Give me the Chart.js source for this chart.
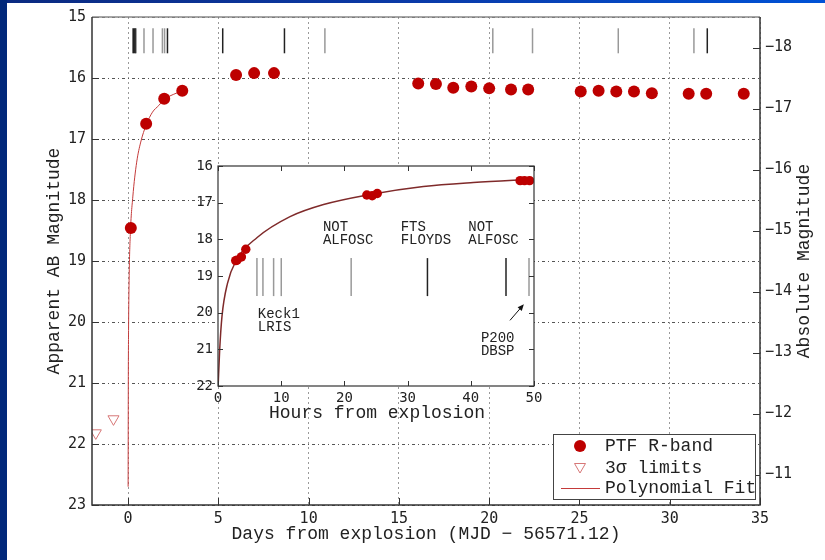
<!DOCTYPE html>
<html>
<head>
<meta charset="utf-8">
<script src="https://cdn.jsdelivr.net/npm/chart.js@4.4.1/dist/chart.umd.min.js"></script>
<style>
  html, body { margin: 0; padding: 0; background: #fff; }
  #page { position: relative; width: 825px; height: 560px; overflow: hidden; background: #fff; }
  #topbar { position: absolute; left: 0; top: 0; width: 825px; height: 3px;
            background: linear-gradient(90deg, #0b2a80 0%, #0a3aa8 50%, #0052d6 100%); z-index: 3; }
  #leftbar { position: absolute; left: 0; top: 0; width: 7px; height: 560px; background: #01287a; z-index: 3; }
  #main { position: absolute; left: 0; top: 0; }
  #inset { position: absolute; left: 160px; top: 150px; }
</style>
</head>
<body>
<div id="page">
  <canvas id="main" width="825" height="560"></canvas>
  <canvas id="inset" width="390" height="280"></canvas>
  <div id="topbar"></div>
  <div id="leftbar"></div>
</div>
<script>
// ---- Light curve, days since explosion (MJD - 56571.12) ----
const phaseDays = [0.15, 1.0, 2.0, 3.0, 5.98, 6.98, 8.08, 16.07, 17.05, 18.01, 19.01, 20.0,
                   21.21, 22.16, 25.07, 26.06, 27.04, 28.02, 29.01, 31.05, 32.02, 34.1];
const rMag      = [18.46, 16.75, 16.34, 16.21, 15.95, 15.92, 15.92, 16.09, 16.10, 16.16, 16.14, 16.17,
                   16.19, 16.19, 16.22, 16.21, 16.22, 16.22, 16.25, 16.26, 16.26, 16.26];

// Pre-explosion non-detections (3 sigma upper limits)
const limitDays = [-1.79, -0.81];
const limitMag  = [21.82, 21.59];

// Polynomial fit to the rise
const fitDays = [0.001, 0.011, 0.026, 0.062, 0.12, 0.26, 0.475, 0.70, 1.0, 1.35, 1.7, 2.0, 2.5, 3.0];
const fitMag  = [22.7, 21.0, 20.1, 19.2, 18.57, 17.95, 17.38, 17.05, 16.77, 16.56, 16.45, 16.35, 16.27, 16.21];

// Spectroscopic epochs (days)
const spectraDays   = [0.26, 0.30, 0.37, 0.42, 0.88, 1.38, 1.90, 2.02, 2.18, 5.24, 8.66, 10.9,
                       20.2, 22.4, 27.15, 31.34, 32.08];
const spectraShades = ['#888', '#222', '#222', '#333', '#999', '#999', '#999', '#999', '#222', '#222', '#222', '#999',
                       '#999', '#999', '#999', '#999', '#222'];

// ---- First two days, hours since explosion ----
const earlyHours = [2.8, 3.0, 3.7, 4.4, 23.55, 24.4, 25.2, 47.8, 48.5, 49.3];
const earlyMag   = [18.58, 18.57, 18.48, 18.27, 16.79, 16.81, 16.75, 16.40, 16.40, 16.40];
const earlyFitHours = [0.02, 0.26, 0.63, 1.5, 2.9, 6.2, 11.4, 16.7, 23.6, 32.5, 40.4, 49.9];
const earlyFitMag   = [22.0, 21.03, 20.1, 19.2, 18.57, 17.95, 17.38, 17.05, 16.79, 16.56, 16.45, 16.36];
const earlySpectraHours  = [6.16, 7.11, 8.80, 10.01, 21.07, 33.14, 45.57, 49.21];
const earlySpectraShades = ['#999', '#999', '#999', '#999', '#999', '#222', '#222', '#999'];

// Axis ticks
const dayTicks = [0, 5, 10, 15, 20, 25, 30, 35];
const appMagTicks = [15, 16, 17, 18, 19, 20, 21, 22, 23];
const absMagTicks = [-18, -17, -16, -15, -14, -13, -12, -11];
const hourTicks = [0, 10, 20, 30, 40, 50];
const earlyMagTicks = [16, 17, 18, 19, 20, 21, 22];

const DIST_MOD = 33.5;          // apparent - absolute
const SPEC_ROW_MAG = 15.39;     // row where spectral epochs are marked
const EARLY_SPEC_ROW_MAG = 19.03;

// Instrument labels in the zoomed panel (anchor: hours, mag of first line)
const instrumentNotes = [
  { lines: ['NOT', 'ALFOSC'], h: 16.6, m: 17.67 },
  { lines: ['FTS', 'FLOYDS'], h: 28.9, m: 17.67 },
  { lines: ['NOT', 'ALFOSC'], h: 39.6, m: 17.67 },
  { lines: ['Keck1', 'LRIS'], h: 6.3, m: 20.04 },
  { lines: ['P200', 'DBSP'], h: 41.6, m: 20.71 }
];
const dbspArrow = { from: [46.2, 20.21], to: [48.4, 19.77] };

const RED = '#bd0000';
const LIMIT_RED = '#d77777';
const FIT_RED = '#c43a3a';
const FIT_DARK = '#7f2a2a';
const TICK_FONT = "'DejaVu Sans Mono', monospace";
const TEXT_FONT = "'Liberation Mono', 'DejaVu Sans Mono', monospace";

const pts = (xs, ys) => xs.map((x, i) => ({ x, y: ys[i] }));
const minus = v => (v < 0 ? '\u2212' + Math.abs(v) : String(v));
const noEdgePad = s => { s.paddingLeft = 0; s.paddingRight = 0; s.paddingTop = 0; s.paddingBottom = 0; };

// Inward tick marks on given scale edges
function drawInwardTicks(chart, specs) {
  const { ctx, chartArea: a } = chart;
  ctx.save();
  ctx.strokeStyle = '#333';
  ctx.lineWidth = 1;
  ctx.beginPath();
  specs.forEach(s => {
    const sc = chart.scales[s.scale];
    s.values.forEach(v => {
      const p = Math.round(sc.getPixelForValue(v)) + 0.5;
      if (s.side === 'left')   { ctx.moveTo(a.left, p);  ctx.lineTo(a.left + s.len, p); }
      if (s.side === 'right')  { ctx.moveTo(a.right, p); ctx.lineTo(a.right - s.len, p); }
      if (s.side === 'bottom') { ctx.moveTo(p, a.bottom); ctx.lineTo(p, a.bottom - s.len); }
      if (s.side === 'top')    { ctx.moveTo(p, a.top);   ctx.lineTo(p, a.top + s.len); }
    });
  });
  ctx.stroke();
  ctx.restore();
}

const mainDecor = {
  id: 'mainDecor',
  afterDraw(chart) {
    const { ctx, chartArea: a } = chart;
    drawInwardTicks(chart, [
      { scale: 'y', side: 'left', len: 7, values: appMagTicks },
      { scale: 'x', side: 'bottom', len: 7, values: dayTicks },
      { scale: 'y2', side: 'right', len: 7, values: absMagTicks }
    ]);
    // frame
    ctx.save();
    ctx.lineWidth = 1.5;
    ctx.strokeStyle = '#888';
    ctx.beginPath(); ctx.moveTo(a.left, a.top); ctx.lineTo(a.right, a.top); ctx.stroke();
    ctx.strokeStyle = '#333';
    ctx.beginPath();
    ctx.moveTo(a.left, a.top); ctx.lineTo(a.left, a.bottom); ctx.lineTo(a.right, a.bottom); ctx.lineTo(a.right, a.top);
    ctx.stroke();
    ctx.restore();

    // axis titles
    ctx.save();
    ctx.fillStyle = '#222';
    ctx.font = '18px ' + TEXT_FONT;
    ctx.textAlign = 'center';
    ctx.textBaseline = 'middle';
    ctx.fillText('Days from explosion (MJD \u2212 56571.12)', (a.left + a.right) / 2, 534);
    const midY = (a.top + a.bottom) / 2;
    ctx.translate(54, midY); ctx.rotate(-Math.PI / 2);
    ctx.fillText('Apparent AB Magnitude', 0, 0);
    ctx.restore();
    ctx.save();
    ctx.fillStyle = '#222';
    ctx.font = '18px ' + TEXT_FONT;
    ctx.textAlign = 'center';
    ctx.textBaseline = 'middle';
    ctx.translate(804, midY); ctx.rotate(-Math.PI / 2);
    ctx.fillText('Absolute Magnitude', 0, 0);
    ctx.restore();

    // legend
    const ds = chart.data.datasets;
    const bx = 553.5, by = 434.5, bw = 202, bh = 65;
    ctx.save();
    ctx.fillStyle = '#fff';
    ctx.fillRect(bx, by, bw, bh);
    ctx.strokeStyle = '#444';
    ctx.lineWidth = 1;
    ctx.strokeRect(bx, by, bw, bh);
    ctx.font = '18px ' + TEXT_FONT;
    ctx.textBaseline = 'middle';
    ctx.textAlign = 'left';
    const rows = [446, 468, 488];
    ctx.fillStyle = ds[0].backgroundColor;
    ctx.beginPath(); ctx.arc(580, rows[0], 6, 0, Math.PI * 2); ctx.fill();
    ctx.strokeStyle = ds[1].borderColor;
    ctx.lineWidth = 1;
    ctx.beginPath();
    ctx.moveTo(574.5, rows[1] - 4.5); ctx.lineTo(585.5, rows[1] - 4.5); ctx.lineTo(580, rows[1] + 5); ctx.closePath();
    ctx.stroke();
    ctx.strokeStyle = ds[2].borderColor;
    ctx.beginPath(); ctx.moveTo(561, rows[2] + 0.5); ctx.lineTo(600, rows[2] + 0.5); ctx.stroke();
    ctx.fillStyle = '#222';
    ctx.fillText(ds[0].label, 605, rows[0]);
    ctx.fillText(ds[1].label, 605, rows[1]);
    ctx.fillText(ds[2].label, 605, rows[2]);
    ctx.restore();
  }
};

new Chart(document.getElementById('main'), {
  type: 'scatter',
  data: {
    datasets: [
      { label: 'PTF R-band', data: pts(phaseDays, rMag), pointStyle: 'circle', pointRadius: 6,
        backgroundColor: RED, borderColor: RED, borderWidth: 0 },
      { label: '3\u03c3 limits', data: pts(limitDays, limitMag), pointStyle: 'triangle', rotation: 180,
        pointRadius: 6.4, backgroundColor: 'rgba(0,0,0,0)', borderColor: LIMIT_RED, borderWidth: 1 },
      { label: 'Polynomial Fit', data: pts(fitDays, fitMag), showLine: true, pointRadius: 0,
        borderColor: FIT_RED, borderWidth: 1, cubicInterpolationMode: 'monotone', fill: false },
      { label: 'spectra', data: spectraDays.map(d => ({ x: d, y: SPEC_ROW_MAG })), pointStyle: 'line',
        rotation: 90, pointRadius: 12.5, pointBorderColor: spectraShades, pointBorderWidth: 1.5 }
    ]
  },
  options: {
    responsive: false, animation: false, events: [],
    layout: { autoPadding: false, padding: { top: 17, right: 0, bottom: 0, left: 0 } },
    plugins: { legend: { display: false }, tooltip: { enabled: false } },
    scales: {
      x: {
        type: 'linear', min: -2, max: 35,
        afterBuildTicks: s => { s.ticks = dayTicks.map(v => ({ value: v })); },
        afterFit: s => { s.height = 55; noEdgePad(s); },
        ticks: { font: { family: TICK_FONT, size: 15 }, color: '#222', padding: 5, maxRotation: 0 },
        grid: { color: '#9a9a9a', lineWidth: 1, drawTicks: false },
        border: { display: false, dash: [2, 3] }
      },
      y: {
        type: 'linear', position: 'left', reverse: true, min: 15, max: 23,
        afterBuildTicks: s => { s.ticks = appMagTicks.map(v => ({ value: v })); },
        afterFit: s => { s.width = 92; noEdgePad(s); },
        ticks: { font: { family: TICK_FONT, size: 15 }, color: '#222', padding: 6 },
        grid: { color: '#555', lineWidth: 1, drawTicks: false },
        border: { display: false, dash: [3, 3, 1, 3] }
      },
      y2: {
        type: 'linear', position: 'right', reverse: true, min: 15 - DIST_MOD, max: 23 - DIST_MOD,
        afterBuildTicks: s => { s.ticks = absMagTicks.map(v => ({ value: v })); },
        afterFit: s => { s.width = 65; noEdgePad(s); },
        ticks: { font: { family: TICK_FONT, size: 15 }, color: '#222', padding: 5, callback: v => minus(v) },
        grid: { drawOnChartArea: false, drawTicks: false },
        border: { display: false }
      }
    }
  },
  plugins: [mainDecor]
});

const insetDecor = {
  id: 'insetDecor',
  beforeDraw(chart) {
    const { ctx, chartArea: a } = chart;
    ctx.save();
    ctx.fillStyle = '#fff';
    ctx.fillRect(a.left, a.top, a.right - a.left, a.bottom - a.top);
    ctx.restore();
  },
  afterDraw(chart) {
    const { ctx, chartArea: a } = chart;
    const xs = chart.scales.x, ys = chart.scales.y;
    drawInwardTicks(chart, [
      { scale: 'y', side: 'left', len: 5, values: earlyMagTicks },
      { scale: 'y', side: 'right', len: 5, values: earlyMagTicks },
      { scale: 'x', side: 'bottom', len: 5, values: hourTicks },
      { scale: 'x', side: 'top', len: 5, values: hourTicks }
    ]);
    ctx.save();
    ctx.strokeStyle = '#333';
    ctx.lineWidth = 1.2;
    ctx.strokeRect(a.left, a.top, a.right - a.left, a.bottom - a.top);
    ctx.restore();

    ctx.save();
    ctx.fillStyle = '#222';
    ctx.font = '18px ' + TEXT_FONT;
    ctx.textAlign = 'center';
    ctx.textBaseline = 'middle';
    ctx.fillText('Hours from explosion', (a.left + a.right) / 2 + 1, 263);
    ctx.font = '14px ' + TEXT_FONT;
    ctx.textAlign = 'left';
    instrumentNotes.forEach(n => {
      const x = xs.getPixelForValue(n.h), y = ys.getPixelForValue(n.m);
      n.lines.forEach((t, i) => ctx.fillText(t, x, y + i * 12.8));
    });
    // arrow toward the DBSP epoch
    const x0 = xs.getPixelForValue(dbspArrow.from[0]), y0 = ys.getPixelForValue(dbspArrow.from[1]);
    const x1 = xs.getPixelForValue(dbspArrow.to[0]), y1 = ys.getPixelForValue(dbspArrow.to[1]);
    const ang = Math.atan2(y1 - y0, x1 - x0);
    ctx.strokeStyle = '#111';
    ctx.fillStyle = '#111';
    ctx.lineWidth = 1;
    ctx.beginPath(); ctx.moveTo(x0, y0); ctx.lineTo(x1 - 4 * Math.cos(ang), y1 - 4 * Math.sin(ang)); ctx.stroke();
    ctx.beginPath();
    ctx.moveTo(x1, y1);
    ctx.lineTo(x1 - 7 * Math.cos(ang - 0.4), y1 - 7 * Math.sin(ang - 0.4));
    ctx.lineTo(x1 - 7 * Math.cos(ang + 0.4), y1 - 7 * Math.sin(ang + 0.4));
    ctx.closePath(); ctx.fill();
    ctx.restore();
  }
};

new Chart(document.getElementById('inset'), {
  type: 'scatter',
  data: {
    datasets: [
      { label: 'PTF R-band', data: pts(earlyHours, earlyMag), pointStyle: 'circle', pointRadius: 4.7,
        backgroundColor: RED, borderColor: RED, borderWidth: 0 },
      { label: 'Polynomial Fit', data: pts(earlyFitHours, earlyFitMag), showLine: true, pointRadius: 0,
        borderColor: FIT_DARK, borderWidth: 1.5, cubicInterpolationMode: 'monotone', fill: false },
      { label: 'spectra', data: earlySpectraHours.map(h => ({ x: h, y: EARLY_SPEC_ROW_MAG })), pointStyle: 'line',
        rotation: 90, pointRadius: 19, pointBorderColor: earlySpectraShades, pointBorderWidth: 1.5 }
    ]
  },
  options: {
    responsive: false, animation: false, events: [],
    layout: { autoPadding: false, padding: { top: 16, right: 16, bottom: 0, left: 0 } },
    plugins: { legend: { display: false }, tooltip: { enabled: false } },
    scales: {
      x: {
        type: 'linear', min: 0, max: 50,
        afterBuildTicks: s => { s.ticks = hourTicks.map(v => ({ value: v })); },
        afterFit: s => { s.height = 44; noEdgePad(s); },
        ticks: { font: { family: TICK_FONT, size: 14 }, color: '#222', padding: 4, maxRotation: 0 },
        grid: { drawOnChartArea: false, drawTicks: false },
        border: { display: false }
      },
      y: {
        type: 'linear', reverse: true, min: 16, max: 22,
        afterBuildTicks: s => { s.ticks = earlyMagTicks.map(v => ({ value: v })); },
        afterFit: s => { s.width = 58; noEdgePad(s); },
        ticks: { font: { family: TICK_FONT, size: 14 }, color: '#222', padding: 5 },
        grid: { drawOnChartArea: false, drawTicks: false },
        border: { display: false }
      }
    }
  },
  plugins: [insetDecor]
});
</script>
</body>
</html>
